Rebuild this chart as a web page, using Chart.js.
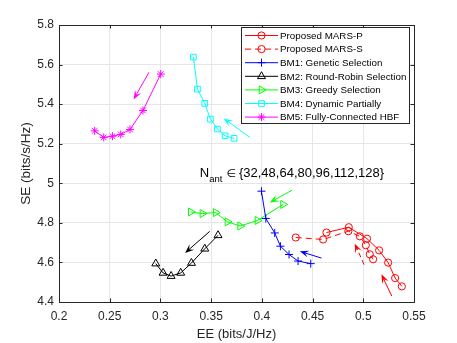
<!DOCTYPE html>
<html><head><meta charset="utf-8">
<script src="https://cdn.jsdelivr.net/npm/chart.js@4/dist/chart.umd.min.js"></script>
<style>html,body{margin:0;padding:0;background:#fff;}#wrap{width:457px;height:343px;}</style>
</head><body><div id="wrap"><canvas id="c" width="457" height="343"></canvas></div>
<script>
// ---------- data ----------
const seriesLabels = ['Proposed MARS-P','Proposed MARS-S','BM1: Genetic Selection','BM2: Round-Robin Selection','BM3: Greedy Selection','BM4: Dynamic Partially','BM5: Fully-Connected HBF'];
const eeMarsP = [0.4637,0.4857,0.5037,0.5156,0.5245,0.5314,0.5380];
const seMarsP = [4.751,4.778,4.720,4.661,4.599,4.521,4.479];
const eeMarsS = [0.4334,0.4604,0.4853,0.4966,0.5025,0.5064,0.5097];
const seMarsS = [4.726,4.716,4.758,4.732,4.687,4.641,4.616];
const eeBM1 = [0.3996,0.4039,0.4127,0.4183,0.4268,0.4357,0.4482];
const seBM1 = [4.960,4.822,4.749,4.682,4.640,4.607,4.594];
const eeBM2 = [0.2954,0.3026,0.3105,0.3200,0.3306,0.3437,0.3568];
const seBM2 = [4.594,4.547,4.531,4.547,4.597,4.669,4.737];
const eeBM3 = [0.3299,0.3414,0.3545,0.3661,0.3786,0.3957,0.4209];
const seBM3 = [4.855,4.847,4.852,4.805,4.784,4.812,4.893];
const eeBM4 = [0.3325,0.3365,0.3437,0.3493,0.3562,0.3637,0.3726];
const seBM4 = [5.638,5.476,5.404,5.324,5.274,5.240,5.227];
const eeBM5 = [0.2352,0.2441,0.2527,0.2609,0.2700,0.2828,0.3003];
const seBM5 = [5.265,5.232,5.238,5.247,5.272,5.368,5.552];
const nAntValues = [32,48,64,80,96,112,128];
const xTickValues = [0.2,0.25,0.3,0.35,0.4,0.45,0.5,0.55];
const xTickLabels = ['0.2','0.25','0.3','0.35','0.4','0.45','0.5','0.55'];
const yTickValues = [4.4,4.6,4.8,5,5.2,5.4,5.6,5.8];
const yTickLabels = ['4.4','4.6','4.8','5','5.2','5.4','5.6','5.8'];
const xTitle = 'EE (bits/J/Hz)';
const yTitle = 'SE (bits/s/Hz)';
// trend arrows (data coordinates: from EE, from SE, to EE, to SE)
const arrowFromEE = [0.5281,0.5008,0.4588,0.3486,0.4298,0.3881,0.2887];
const arrowFromSE = [4.430,4.589,4.622,4.757,4.965,5.232,5.561];
const arrowToEE   = [0.5179,0.4916,0.4374,0.3243,0.4078,0.3624,0.2736];
const arrowToSE   = [4.540,4.695,4.656,4.648,4.903,5.328,5.424];
const nAntTextEE = 0.3388, nAntTextSE = 5.031;

// ---------- styling ----------
const FONT = '"Liberation Sans", Arial, Helvetica, sans-serif';
const colors = ['#ff0000','#ff0000','#0000ff','#000000','#00ff00','#00ffff','#ff00ff'];
const dashes = [[],[6,4],[],[],[],[],[]];
const pStyles = ['circle','circle','cross','triangle','triangle','rect','star'];
const pRot = [0,0,0,0,90,0,0];
const pRad = [3.6,3.6,4,4.6,4.6,4,4];
const arrowColors = ['#ff0000','#ff0000','#0000ff','#000000','#00ff00','#00ffff','#ff00ff'];
const arrowDashes = [[],[5,3],[],[],[],[],[]];

const eeList = [eeMarsP,eeMarsS,eeBM1,eeBM2,eeBM3,eeBM4,eeBM5];
const seList = [seMarsP,seMarsS,seBM1,seBM2,seBM3,seBM4,seBM5];

const datasets = seriesLabels.map((lab,i)=>({
  label: lab,
  data: eeList[i].map((x,k)=>({x:x, y:seList[i][k]})),
  showLine: true,
  borderColor: colors[i],
  backgroundColor: 'rgba(0,0,0,0)',
  pointBorderColor: colors[i],
  pointBackgroundColor: 'rgba(0,0,0,0)',
  borderWidth: 1,
  borderDash: dashes[i],
  pointStyle: pStyles[i],
  pointRotation: pRot[i],
  pointRadius: pRad[i],
  pointBorderWidth: 1,
  pointHoverRadius: pRad[i],
  tension: 0,
  order: i
}));

function drawMarker(ctx, style, x, y, r, rot){
  ctx.save();
  ctx.translate(x,y);
  ctx.rotate(rot*Math.PI/180);
  ctx.beginPath();
  if(style==='circle'){ ctx.arc(0,0,r,0,Math.PI*2); }
  else if(style==='cross'){ ctx.moveTo(-r,0);ctx.lineTo(r,0);ctx.moveTo(0,-r);ctx.lineTo(0,r); }
  else if(style==='triangle'){
    for(let k=0;k<3;k++){const a=k*2*Math.PI/3; const px=Math.sin(a)*r, py=-Math.cos(a)*r; if(k===0)ctx.moveTo(px,py); else ctx.lineTo(px,py);} ctx.closePath(); }
  else if(style==='rect'){ const s=r*Math.SQRT1_2; ctx.rect(-s,-s,2*s,2*s); }
  else if(style==='star'){ ctx.moveTo(-r,0);ctx.lineTo(r,0);ctx.moveTo(0,-r);ctx.lineTo(0,r);
    const d=r*Math.SQRT1_2; ctx.moveTo(-d,-d);ctx.lineTo(d,d);ctx.moveTo(-d,d);ctx.lineTo(d,-d); }
  ctx.stroke();
  ctx.restore();
}

function drawArrow(ctx,x1,y1,x2,y2,color,dash){
  const ang=Math.atan2(y2-y1,x2-x1), c=Math.cos(ang), s=Math.sin(ang);
  const L=9, W=3.5;
  ctx.save();
  ctx.strokeStyle=color; ctx.fillStyle=color; ctx.lineWidth=1;
  ctx.setLineDash(dash);
  ctx.beginPath(); ctx.moveTo(x1,y1); ctx.lineTo(x2-L*0.6*c, y2-L*0.6*s); ctx.stroke();
  ctx.setLineDash([]);
  ctx.beginPath();
  ctx.moveTo(x2,y2);
  ctx.lineTo(x2-L*c+W*s, y2-L*s-W*c);
  ctx.lineTo(x2-L*0.6*c, y2-L*0.6*s);
  ctx.lineTo(x2-L*c-W*s, y2-L*s+W*c);
  ctx.closePath(); ctx.fill();
  ctx.restore();
}

const decor = {
  id:'decor',
  afterDatasetsDraw(chart){
    const ctx=chart.ctx, xs=chart.scales.x, ys=chart.scales.y;
    for(let i=0;i<arrowFromEE.length;i++){
      drawArrow(ctx, xs.getPixelForValue(arrowFromEE[i]), ys.getPixelForValue(arrowFromSE[i]),
        xs.getPixelForValue(arrowToEE[i]), ys.getPixelForValue(arrowToSE[i]), arrowColors[i], arrowDashes[i]);
    }
    // N_ant annotation
    let tx=xs.getPixelForValue(nAntTextEE), ty=ys.getPixelForValue(nAntTextSE);
    ctx.save(); ctx.fillStyle='#000'; ctx.textBaseline='alphabetic'; ctx.textAlign='left';
    ctx.font='13px '+FONT; ctx.fillText('N',tx,ty); tx+=ctx.measureText('N').width;
    ctx.font='9.5px '+FONT; ctx.fillText('ant',tx,ty+5); tx+=ctx.measureText('ant').width+4;
    ctx.font='11px "DejaVu Sans", sans-serif'; ctx.fillText('\u2208',tx,ty-0.5); tx+=ctx.measureText('\u2208').width+3;
    ctx.font='13px '+FONT; ctx.fillText('{'+nAntValues.join(',')+'}',tx,ty);
    ctx.restore();
  },
  afterDraw(chart){
    const ctx=chart.ctx, a=chart.chartArea, xs=chart.scales.x, ys=chart.scales.y;
    ctx.save();
    ctx.strokeStyle='#262626'; ctx.lineWidth=1;
    ctx.strokeRect(Math.round(a.left)+0.5, Math.round(a.top)+0.5, Math.round(a.right-a.left), Math.round(a.bottom-a.top));
    const T=3.5;
    ctx.beginPath();
    xTickValues.forEach(v=>{const p=Math.round(xs.getPixelForValue(v))+0.5; ctx.moveTo(p,a.bottom);ctx.lineTo(p,a.bottom-T);ctx.moveTo(p,a.top);ctx.lineTo(p,a.top+T);});
    yTickValues.forEach(v=>{const p=Math.round(ys.getPixelForValue(v))+0.5; ctx.moveTo(a.left,p);ctx.lineTo(a.left+T,p);ctx.moveTo(a.right,p);ctx.lineTo(a.right-T,p);});
    ctx.stroke();
    // legend
    const bx=241.5, by=27.5, bw=168, bh=96;
    ctx.fillStyle='#fff'; ctx.fillRect(bx,by,bw,bh);
    ctx.strokeStyle='#262626'; ctx.strokeRect(bx,by,bw,bh);
    ctx.font='9.8px '+FONT; ctx.textBaseline='middle'; ctx.textAlign='left';
    chart.data.datasets.forEach((ds,i)=>{
      const yy=35.5+i*13.6;
      ctx.strokeStyle=ds.borderColor; ctx.lineWidth=1; ctx.setLineDash(ds.borderDash);
      ctx.beginPath(); ctx.moveTo(245,yy); ctx.lineTo(278,yy); ctx.stroke();
      ctx.setLineDash([]);
      drawMarker(ctx, ds.pointStyle, 261.5, yy, ds.pointRadius, ds.pointRotation);
      ctx.fillStyle='#000'; ctx.fillText(ds.label, 280, yy+0.5);
    });
    ctx.restore();
  }
};

new Chart(document.getElementById('c'), {
  type:'scatter',
  data:{datasets:datasets},
  options:{
    responsive:false, animation:false, devicePixelRatio:1,
    layout:{padding:{left:0,top:25,right:43,bottom:0}},
    plugins:{legend:{display:false}, tooltip:{enabled:false}},
    elements:{line:{tension:0}},
    scales:{
      x:{type:'linear', min:0.2, max:0.55,
        afterBuildTicks:s=>{s.ticks=xTickValues.map(v=>({value:v}));},
        afterFit:s=>{s.height=41;},
        grid:{color:'#e6e6e6', drawTicks:false, lineWidth:1},
        border:{display:false},
        ticks:{padding:7, color:'#262626', font:{family:FONT,size:12}, autoSkip:false, maxRotation:0,
          callback:(v,i)=>xTickLabels[i]},
        title:{display:true, text:xTitle, color:'#262626', font:{family:FONT,size:13}, padding:{top:0,bottom:1}}
      },
      y:{type:'linear', min:4.4, max:5.8,
        afterBuildTicks:s=>{s.ticks=yTickValues.map(v=>({value:v}));},
        afterFit:s=>{s.width=59;},
        grid:{color:'#e6e6e6', drawTicks:false, lineWidth:1},
        border:{display:false},
        ticks:{padding:5, color:'#262626', font:{family:FONT,size:12}, autoSkip:false,
          callback:(v,i)=>yTickLabels[i]},
        title:{display:true, text:yTitle, color:'#262626', font:{family:FONT,size:13.5}, padding:{top:18,bottom:0}}
      }
    }
  },
  plugins:[decor]
});
</script></body></html>
